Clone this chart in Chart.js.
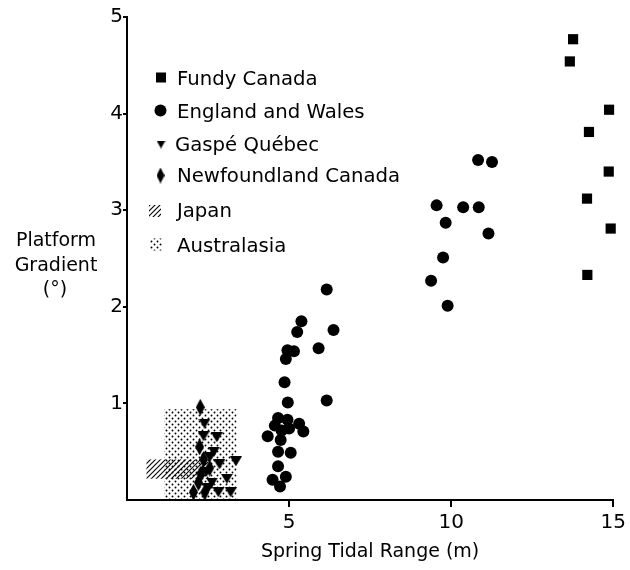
<!DOCTYPE html>
<html><head><meta charset="utf-8">
<script src="https://cdn.jsdelivr.net/npm/chart.js@4.4.0/dist/chart.umd.min.js"></script>
<style>html,body{margin:0;padding:0;background:#fff;}canvas{display:block;}</style>
</head><body>
<canvas id="c" width="630" height="570"></canvas>
<script>
// ---- data ----
const xTicks = [5, 10, 15];
const yTicks = [1, 2, 3, 4, 5];
const seriesNames = ['Fundy Canada', 'England and Wales', 'Gaspé Québec', 'Newfoundland Canada', 'Japan', 'Australasia'];

const fundyX = [13.76, 13.66, 14.87, 14.25, 14.86, 14.19, 14.92, 14.20];
const fundyY = [4.77, 4.54, 4.04, 3.81, 3.40, 3.12, 2.81, 2.33];

const englandX = [9.55, 10.37, 10.85, 9.83, 11.15, 9.75, 9.38, 9.89, 10.83, 11.26,
  6.16, 5.38, 5.25, 6.37, 4.95, 5.15, 4.90, 5.91, 4.86, 4.96, 6.16,
  4.66, 4.95, 4.56, 4.77, 5.00, 5.31, 5.44, 4.34, 4.74, 4.66, 5.05, 4.66, 4.49, 4.90, 4.72];
const englandY = [3.05, 3.03, 3.03, 2.87, 2.76, 2.51, 2.27, 2.01, 3.52, 3.50,
  2.18, 1.85, 1.74, 1.76, 1.55, 1.54, 1.46, 1.57, 1.22, 1.01, 1.03,
  0.85, 0.83, 0.77, 0.72, 0.74, 0.79, 0.71, 0.66, 0.62, 0.50, 0.49, 0.35, 0.21, 0.24, 0.14];

const gaspeX = [2.39, 2.36, 2.77, 2.68, 3.36, 2.85, 2.55, 2.45, 3.08, 2.62, 2.82, 3.20, 2.50];
const gaspeY = [0.79, 0.66, 0.65, 0.50, 0.40, 0.37, 0.44, 0.29, 0.22, 0.18, 0.08, 0.08, 0.12];

const newfX = [2.26, 2.24, 2.36, 2.28, 2.05, 2.40, 2.55, 2.20];
const newfY = [0.96, 0.55, 0.42, 0.27, 0.08, 0.08, 0.33, 0.18];

// ranges [min, max]
const japanX = [0.60, 2.50];
const japanY = [0.22, 0.42];
const australasiaX = [1.15, 3.38];
const australasiaY = [0.00, 0.94];

// ---- helpers ----
const FONT = 'DejaVu Sans';
function pts(xs, ys) { return xs.map((x, i) => ({ x: x, y: ys[i] })); }
function makeTriDown(w, h) {
  const c = document.createElement('canvas'); c.width = w; c.height = h;
  const g = c.getContext('2d'); g.fillStyle = '#000';
  g.beginPath(); g.moveTo(0, 0); g.lineTo(w, 0); g.lineTo(w / 2, h); g.closePath(); g.fill();
  return c;
}
function makeDiamond(w, h) {
  const c = document.createElement('canvas'); c.width = w; c.height = h;
  const g = c.getContext('2d'); g.fillStyle = '#000';
  g.beginPath(); g.moveTo(w / 2, 0); g.lineTo(w, h / 2); g.lineTo(w / 2, h); g.lineTo(0, h / 2); g.closePath(); g.fill();
  return c;
}
const triImg = makeTriDown(12, 10);
const diaImg = makeDiamond(9, 17);
const triLeg = makeTriDown(9, 8);
const diaLeg = makeDiamond(8, 16);

function hatchPattern(ctx) {
  const c = document.createElement('canvas'); c.width = 5; c.height = 5;
  const g = c.getContext('2d'); g.strokeStyle = '#000'; g.lineWidth = 1.1;
  g.beginPath(); g.moveTo(-1, 6); g.lineTo(6, -1); g.stroke();
  g.beginPath(); g.moveTo(-1, 1); g.lineTo(1, -1); g.stroke();
  g.beginPath(); g.moveTo(4, 6); g.lineTo(6, 4); g.stroke();
  return ctx.createPattern(c, 'repeat');
}
function stipplePattern(ctx) {
  const c = document.createElement('canvas'); c.width = 6; c.height = 6;
  const g = c.getContext('2d'); g.fillStyle = '#000';
  g.beginPath(); g.arc(1.5, 1.5, 0.95, 0, Math.PI * 2); g.fill();
  g.beginPath(); g.arc(4.5, 4.5, 0.95, 0, Math.PI * 2); g.fill();
  return ctx.createPattern(c, 'repeat');
}

const regionPlugin = {
  id: 'regions',
  beforeDatasetsDraw(chart) {
    const ctx = chart.ctx, xs = chart.scales.x, ys = chart.scales.y;
    ctx.save();
    const rect = (rx, ry, pat) => {
      const x0 = xs.getPixelForValue(rx[0]), x1 = xs.getPixelForValue(rx[1]);
      const y0 = ys.getPixelForValue(ry[1]), y1 = ys.getPixelForValue(ry[0]);
      ctx.fillStyle = pat; ctx.fillRect(x0, y0, x1 - x0, y1 - y0);
    };
    rect(australasiaX, australasiaY, stipplePattern(ctx));
    rect(japanX, japanY, hatchPattern(ctx));
    ctx.restore();
  },
  afterDraw(chart) {
    const ctx = chart.ctx;
    ctx.save();
    ctx.fillStyle = '#000';
    ctx.font = '19.7px "' + FONT + '"';
    ctx.textAlign = 'left'; ctx.textBaseline = 'alphabetic';
    const base = [85, 118, 151, 182, 217, 252];
    const cy = [77.5, 110.5, 144.5, 175.5, 211, 244.5];
    const tx = [177, 177, 175, 177, 177, 177];
    seriesNames.forEach((n, i) => ctx.fillText(n, tx[i], base[i]));
    // markers
    ctx.fillRect(156, cy[0] - 5, 10, 10);
    ctx.beginPath(); ctx.arc(160.5, cy[1], 6, 0, Math.PI * 2); ctx.fill();
    ctx.drawImage(triLeg, 156.5, cy[2] - 4);
    ctx.drawImage(diaLeg, 156.5, cy[3] - 8);
    ctx.fillStyle = hatchPattern(ctx); ctx.fillRect(149, cy[4] - 6, 12, 12);
    ctx.fillStyle = stipplePattern(ctx); ctx.fillRect(150, cy[5] - 6, 12, 12);
    // y title
    ctx.fillStyle = '#000';
    ctx.font = '19px "' + FONT + '"';
    ctx.textAlign = 'center'; ctx.textBaseline = 'middle';
    ctx.fillText('Platform', 56, 241);
    ctx.fillText('Gradient', 56, 266);
    ctx.fillText('(°)', 55, 290);
    ctx.restore();
  }
};

new Chart(document.getElementById('c'), {
  type: 'scatter',
  data: {
    datasets: [
      { label: seriesNames[0], data: pts(fundyX, fundyY), pointStyle: 'rect', pointRadius: 7.2, backgroundColor: '#000', borderWidth: 0, clip: false },
      { label: seriesNames[1], data: pts(englandX, englandY), pointStyle: 'circle', pointRadius: 6, backgroundColor: '#000', borderWidth: 0, clip: false },
      { label: seriesNames[2], data: pts(gaspeX, gaspeY), pointStyle: triImg, backgroundColor: '#000', borderWidth: 0, clip: false },
      { label: seriesNames[3], data: pts(newfX, newfY), pointStyle: diaImg, backgroundColor: '#000', borderWidth: 0, clip: false }
    ]
  },
  options: {
    responsive: false,
    animation: false,
    devicePixelRatio: 1,
    layout: { padding: { top: 17, right: 15, left: 0, bottom: 0 } },
    plugins: { legend: { display: false }, tooltip: { enabled: false } },
    scales: {
      x: {
        type: 'linear', min: 0, max: 15,
        afterBuildTicks: s => { s.ticks = xTicks.map(v => ({ value: v })); },
        afterFit: s => { s.height = 70; },
        ticks: { font: { family: FONT, size: 20 }, color: '#000', padding: 4, maxRotation: 0, autoSkip: false },
        grid: { display: true, drawOnChartArea: false, drawTicks: true, tickLength: 7, color: '#000', lineWidth: 2 },
        border: { display: true, color: '#000', width: 2 },
        title: { display: true, text: 'Spring Tidal Range (m)', font: { family: FONT, size: 19 }, color: '#000', padding: { top: 2, bottom: 7 } }
      },
      y: {
        type: 'linear', min: 0, max: 5,
        afterBuildTicks: s => { s.ticks = yTicks.map(v => ({ value: v })); },
        afterFit: s => { s.width = 127; },
        ticks: { font: { family: FONT, size: 20 }, color: '#000', padding: 0 },
        grid: { display: true, drawOnChartArea: false, drawTicks: true, tickLength: 4, color: '#000', lineWidth: 2 },
        border: { display: true, color: '#000', width: 2 }
      }
    }
  },
  plugins: [regionPlugin]
});
</script>
</body></html>
